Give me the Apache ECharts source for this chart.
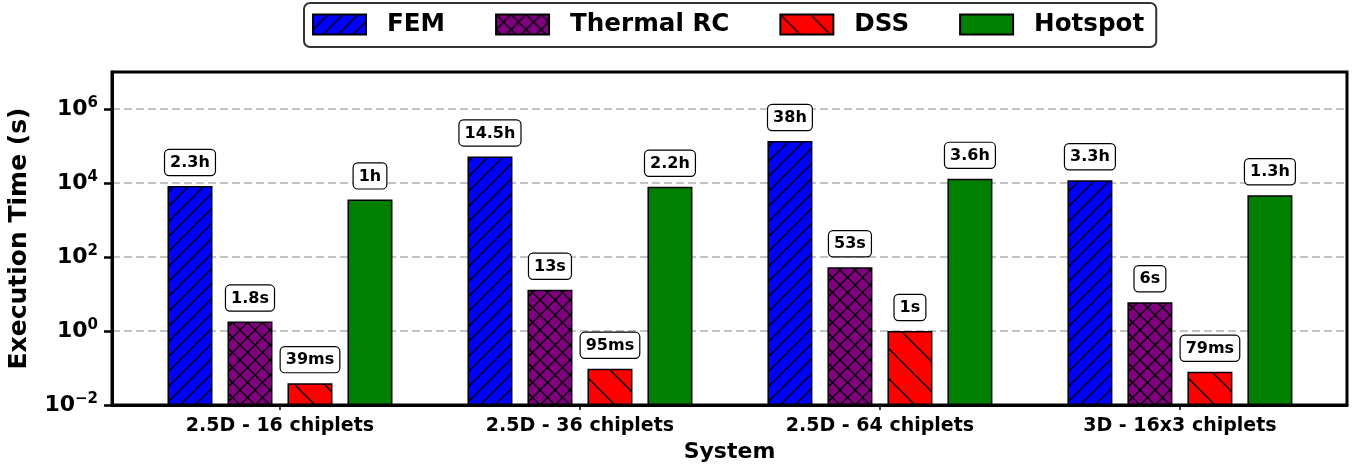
<!DOCTYPE html>
<html>
<head>
<meta charset="utf-8">
<title>Execution Time per System</title>
<script src="https://cdn.jsdelivr.net/npm/echarts@6/dist/echarts.min.js"></script>
<style>
  html, body { margin: 0; padding: 0; background: #ffffff; }
  #chart { width: 1359px; height: 465px; }
</style>
</head>
<body>
<div id="chart"></div>
<script>
// ---- data ----
const categories = ['2.5D - 16 chiplets', '2.5D - 36 chiplets', '2.5D - 64 chiplets', '3D - 16x3 chiplets'];
const seriesNames = ['FEM', 'Thermal RC', 'DSS', 'Hotspot'];

// execution times in seconds, with the readable label for each bar
const femSeconds = [2.3 * 3600, 14.5 * 3600, 38 * 3600, 3.3 * 3600];
const femLabels = ['2.3h', '14.5h', '38h', '3.3h'];
const rcSeconds = [1.8, 13, 53, 6];
const rcLabels = ['1.8s', '13s', '53s', '6s'];
const dssSeconds = [0.039, 0.095, 1, 0.079];
const dssLabels = ['39ms', '95ms', '1s', '79ms'];
const hotspotSeconds = [1 * 3600, 2.2 * 3600, 3.6 * 3600, 1.3 * 3600];
const hotspotLabels = ['1h', '2.2h', '3.6h', '1.3h'];

// decades that carry a y tick label (10^e)
const yTickExponents = [-2, 0, 2, 4, 6];

// ---- hatch patterns ----
function hatch(fill, size, dirs) {
  const c = document.createElement('canvas');
  c.width = size; c.height = size;
  const g = c.getContext('2d');
  g.fillStyle = fill;
  g.fillRect(0, 0, size, size);
  g.strokeStyle = '#000';
  g.lineWidth = 1.3;
  for (let k = -1; k <= 1; k++) {
    if (dirs.includes('/')) {
      g.beginPath(); g.moveTo(k * size, size); g.lineTo(k * size + size, 0); g.stroke();
    }
    if (dirs.includes('\\')) {
      g.beginPath(); g.moveTo(k * size, 0); g.lineTo(k * size + size, size); g.stroke();
    }
  }
  return { image: c, repeat: 'repeat' };
}

const fills = [
  hatch('#0000ff', 15, '/'),
  hatch('#800080', 15, '/\\'),
  hatch('#ff0000', 30, '\\'),
  '#008000'
];

const FONT = 'DejaVu Sans';

function barSeries(idx, values, labels) {
  return {
    name: seriesNames[idx],
    type: 'bar',
    barWidth: 45,
    barGap: '33.33%',
    data: values.map((v, i) => [i, v]),
    itemStyle: { color: fills[idx], borderColor: '#000', borderWidth: 1.5 },
    label: {
      show: true,
      position: 'top',
      distance: 11,
      formatter: p => labels[p.dataIndex],
      fontFamily: FONT,
      fontWeight: 'bold',
      fontSize: 16,
      color: '#000',
      backgroundColor: '#fff',
      borderColor: '#000',
      borderWidth: 1.2,
      borderRadius: 4,
      padding: [4, 5, 3, 5],
      lineHeight: 18
    },
    emphasis: { disabled: true }
  };
}

const chart = echarts.init(document.getElementById('chart'), null, { renderer: 'canvas' });

chart.setOption({
  animation: false,
  textStyle: { fontFamily: FONT },
  legend: {
    top: 3,
    left: 304,
    data: seriesNames,
    icon: 'rect',
    itemWidth: 53,
    itemHeight: 20,
    itemGap: 50,
    padding: [9, 12, 10, 8],
    borderColor: '#333',
    borderWidth: 2,
    borderRadius: 6,
    backgroundColor: '#fff',
    selectedMode: false,
    textStyle: {
      fontFamily: FONT,
      fontWeight: 'bold',
      fontSize: 24.6,
      color: '#000',
      padding: [6, 0, 0, 16]
    }
  },
  grid: {
    left: 112,
    right: 12,
    top: 72,
    bottom: 60,
    outerBoundsMode: 'none',
    containLabel: false,
    show: true,
    borderColor: '#000',
    borderWidth: 3,
    backgroundColor: 'transparent'
  },
  xAxis: {
    type: 'value',
    min: -0.56,
    max: 3.557,
    z: 5,
    name: 'System',
    nameLocation: 'middle',
    nameGap: 31,
    nameTextStyle: { fontFamily: FONT, fontWeight: 'bold', fontSize: 22, color: '#000' },
    axisLine: { show: true, onZero: false, lineStyle: { color: '#000', width: 3 } },
    axisTick: {
      show: true,
      length: 5,
      lineStyle: { color: '#000', width: 1.5 },
      customValues: categories.map((c, i) => i)
    },
    axisLabel: {
      customValues: categories.map((c, i) => i),
      formatter: v => categories[Math.round(v)] || '',
      fontFamily: FONT,
      fontWeight: 'bold',
      fontSize: 19,
      color: '#000',
      margin: 12
    },
    splitLine: { show: false }
  },
  yAxis: {
    type: 'log',
    logBase: 100,
    min: 0.01,
    max: 1e7,
    startValue: 0.01,
    name: 'Execution Time (s)',
    nameLocation: 'middle',
    nameGap: 80,
    nameTextStyle: { fontFamily: FONT, fontWeight: 'bold', fontSize: 25, color: '#000' },
    axisLine: { show: true, onZero: false, lineStyle: { color: '#000', width: 3 } },
    axisTick: { show: true, length: 8, lineStyle: { color: '#000', width: 2.5 } },
    minorTick: { show: false },
    axisLabel: {
      margin: 14,
      showMaxLabel: false,
      formatter: v => {
        const e = Math.round(Math.log10(v));
        if (!yTickExponents.includes(e)) return '';
        const sup = e < 0 ? '\u2212' + (-e) : String(e);
        return '{b|10}{s|' + sup + '}';
      },
      rich: {
        b: { fontFamily: FONT, fontWeight: 'bold', fontSize: 22, color: '#000', lineHeight: 26 },
        s: { fontFamily: FONT, fontWeight: 'bold', fontSize: 15, color: '#000', lineHeight: 16, verticalAlign: 'top' }
      }
    },
    splitLine: {
      show: true,
      showMinLine: false,
      showMaxLine: false,
      lineStyle: { color: '#b0b0b0', width: 1.5, type: [8, 4] }
    }
  },
  series: [
    barSeries(0, femSeconds, femLabels),
    barSeries(1, rcSeconds, rcLabels),
    barSeries(2, dssSeconds, dssLabels),
    barSeries(3, hotspotSeconds, hotspotLabels)
  ]
});
</script>
</body>
</html>
